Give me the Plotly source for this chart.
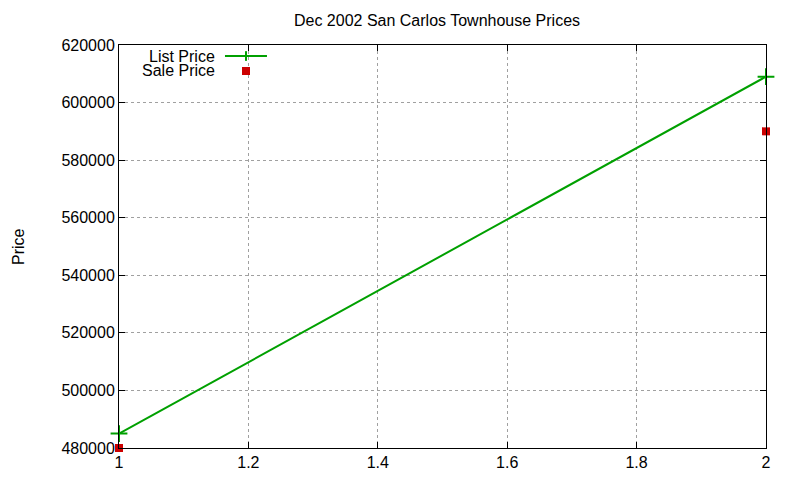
import plotly.graph_objects as go

title = "Dec 2002 San Carlos Townhouse Prices"
x_vals = [1, 2]
list_price = [485000, 609000]
sale_price = [480000, 590000]
x_ticks = [1, 1.2, 1.4, 1.6, 1.8, 2]
y_ticks = [480000, 500000, 520000, 540000, 560000, 580000, 600000, 620000]

GREEN = "#00a000"
RED = "#cc0000"
FONT = "Liberation Sans, Arial, sans-serif"
FS = 16

fig = go.Figure()
fig.add_trace(go.Scatter(
    x=x_vals, y=list_price, mode="lines+markers", name="List Price",
    line=dict(color=GREEN, width=2),
    marker=dict(symbol="cross-thin", size=12, line=dict(color=GREEN, width=2)),
    cliponaxis=False, showlegend=False))
fig.add_trace(go.Scatter(
    x=x_vals, y=sale_price, mode="markers", name="Sale Price",
    marker=dict(symbol="square", size=8, color=RED),
    cliponaxis=False, showlegend=False))

# legend drawn gnuplot-style (text left of sample)
fig.add_annotation(xref="paper", yref="paper", x=0.1515, y=0.9727, text="List Price",
                   showarrow=False, xanchor="right", yanchor="middle", height=15,
                   font=dict(size=FS, color="#000000", family=FONT))
fig.add_annotation(xref="paper", yref="paper", x=0.1515, y=0.9355, text="Sale Price",
                   showarrow=False, xanchor="right", yanchor="middle", height=15,
                   font=dict(size=FS, color="#000000", family=FONT))
fig.add_shape(type="line", xref="paper", yref="paper", x0=0.1638, x1=0.2287,
              y0=0.9727, y1=0.9727, line=dict(color=GREEN, width=2))
fig.add_shape(type="line", xref="paper", yref="paper", x0=0.1963, x1=0.1963,
              y0=0.9727 - 0.012, y1=0.9727 + 0.012, line=dict(color=GREEN, width=2))
fig.add_shape(type="rect", xref="paper", yref="paper", x0=0.1963 - 0.0062, x1=0.1963 + 0.0062,
              y0=0.9355 - 0.0099, y1=0.9355 + 0.0099, line=dict(width=0), fillcolor=RED)

axis_common = dict(
    showline=True, linecolor="#000000", linewidth=1, mirror="allticks",
    ticks="inside", ticklen=6, tickcolor="#000000", tickwidth=1,
    showgrid=True, gridcolor="#a0a0a0", griddash="dot", gridwidth=1,
    zeroline=False, automargin=False,
    tickfont=dict(size=FS, color="#000000", family=FONT),
)
fig.update_xaxes(range=[1, 2], tickvals=x_ticks, ticktext=[f"{v:g}" for v in x_ticks], **axis_common)
fig.update_yaxes(range=[480000, 620000], tickvals=y_ticks, ticktext=[str(v) for v in y_ticks],
                 **axis_common)

fig.add_annotation(xref="paper", yref="paper", x=-111 / 647, y=0.5, text="Price", textangle=-90,
                   showarrow=False, xanchor="left", yanchor="middle",
                   font=dict(size=FS, color="#000000", family=FONT))

# page has an 8px body margin: figure is 792x472 so the plot area lands at 119..766 x 45..448
fig.update_layout(
    width=792, height=472,
    margin=dict(l=111, r=34, t=37, b=32),
    paper_bgcolor="#ffffff", plot_bgcolor="#ffffff",
    title=dict(text=title, x=0.4915, xref="paper", xanchor="center",
               y=1 - 12 / 472, yanchor="middle",
               font=dict(size=FS, color="#000000", family=FONT)),
    font=dict(family=FONT, color="#000000"),
)

fig.write_html("out.html")
